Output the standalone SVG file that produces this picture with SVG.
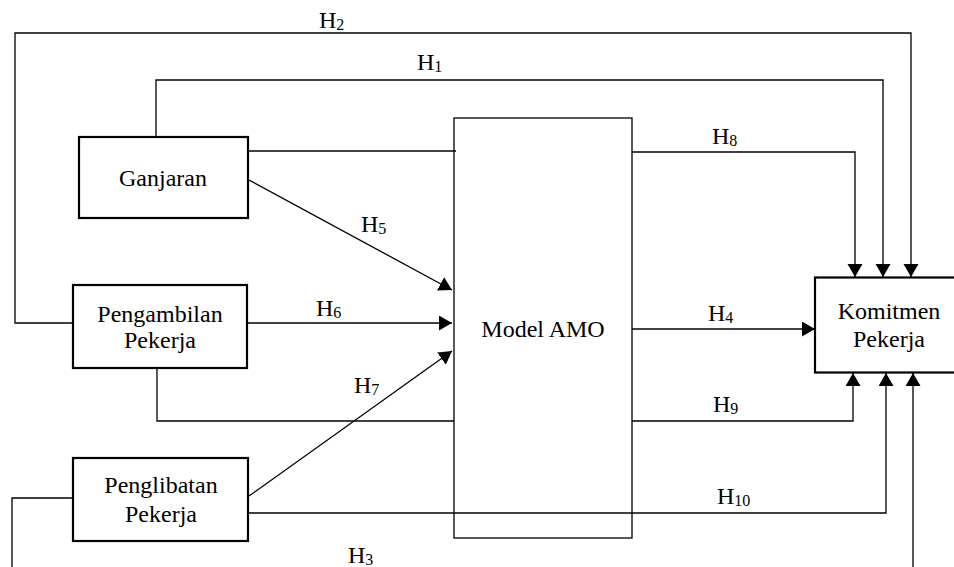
<svg xmlns="http://www.w3.org/2000/svg" width="954" height="567" viewBox="0 0 954 567">
<style>
.bg{fill:#fff}
.box{fill:none;stroke:#000;stroke-width:2.2}
.amo{fill:none;stroke:#000;stroke-width:1.3}
.c{fill:none;stroke:#000;stroke-width:1.3}
.a{marker-end:url(#ah)}
text{font-family:"Liberation Serif","Times New Roman",serif;font-size:24px;fill:#000}
.mid{text-anchor:middle}
.sub{font-size:16px}
</style>
<defs>
<marker id="ah" markerUnits="userSpaceOnUse" markerWidth="14" markerHeight="16" viewBox="0 0 14 16" refX="13" refY="7.5" orient="auto">
<path d="M0,0 L13,7.5 L0,15 Z" fill="#000"/>
</marker>
</defs>
<rect class="bg" x="0" y="0" width="954" height="567"/>
<g id="connectors">
<path id="c-h1" class="c a" d="M156,137 V80 H883 V277"/>
<path id="c-h2" class="c a" d="M73,323 H15 V33 H911 V277"/>
<path id="c-h8a" class="c" d="M248,151 H456"/>
<path id="c-h8" class="c a" d="M632,152 H855 V277"/>
<path id="c-h5" class="c a" d="M249,180 L452,290"/>
<path id="c-h6" class="c a" d="M247,323 H452"/>
<path id="c-h7" class="c a" d="M249,496 L452,351"/>
<path id="c-h9a" class="c" d="M157,368 V421 H454"/>
<path id="c-h9" class="c a" d="M632,421 H853 V373"/>
<path id="c-h4" class="c a" d="M632,329 H815"/>
<path id="c-h10" class="c a" d="M247,513 H886 V373"/>
<path id="c-h3" class="c a" d="M73,498 H12 V585 H913 V373"/>
<text x="319" y="28">H<tspan class="sub" dy="2">2</tspan></text>
<text x="417" y="70">H<tspan class="sub" dy="2">1</tspan></text>
<text x="712" y="144">H<tspan class="sub" dy="2">8</tspan></text>
<text x="361" y="232">H<tspan class="sub" dy="2">5</tspan></text>
<text x="316" y="316">H<tspan class="sub" dy="2">6</tspan></text>
<text x="708" y="321">H<tspan class="sub" dy="2">4</tspan></text>
<text x="354" y="393">H<tspan class="sub" dy="2">7</tspan></text>
<text x="713" y="412">H<tspan class="sub" dy="2">9</tspan></text>
<text x="717" y="504">H<tspan class="sub" dy="2">10</tspan></text>
<text x="348" y="563">H<tspan class="sub" dy="2">3</tspan></text>
</g>
<g id="ganjaran">
<rect class="box" x="79" y="137" width="169" height="81"/>
<text class="mid" x="163" y="186">Ganjaran</text>
</g>
<g id="pengambilan">
<rect class="box" x="73" y="285" width="174" height="83"/>
<text class="mid" x="160" y="322">Pengambilan</text>
<text class="mid" x="160" y="348">Pekerja</text>
</g>
<g id="penglibatan">
<rect class="box" x="73" y="458" width="175" height="83"/>
<text class="mid" x="161" y="493">Penglibatan</text>
<text class="mid" x="161" y="522">Pekerja</text>
</g>
<g id="amo">
<rect class="amo" x="454" y="118" width="178" height="420"/>
<text class="mid" x="543" y="337">Model AMO</text>
</g>
<g id="komitmen">
<rect class="box" x="815" y="277.5" width="150" height="95"/>
<text class="mid" x="889" y="319">Komitmen</text>
<text class="mid" x="889" y="347">Pekerja</text>
</g>
</svg>
